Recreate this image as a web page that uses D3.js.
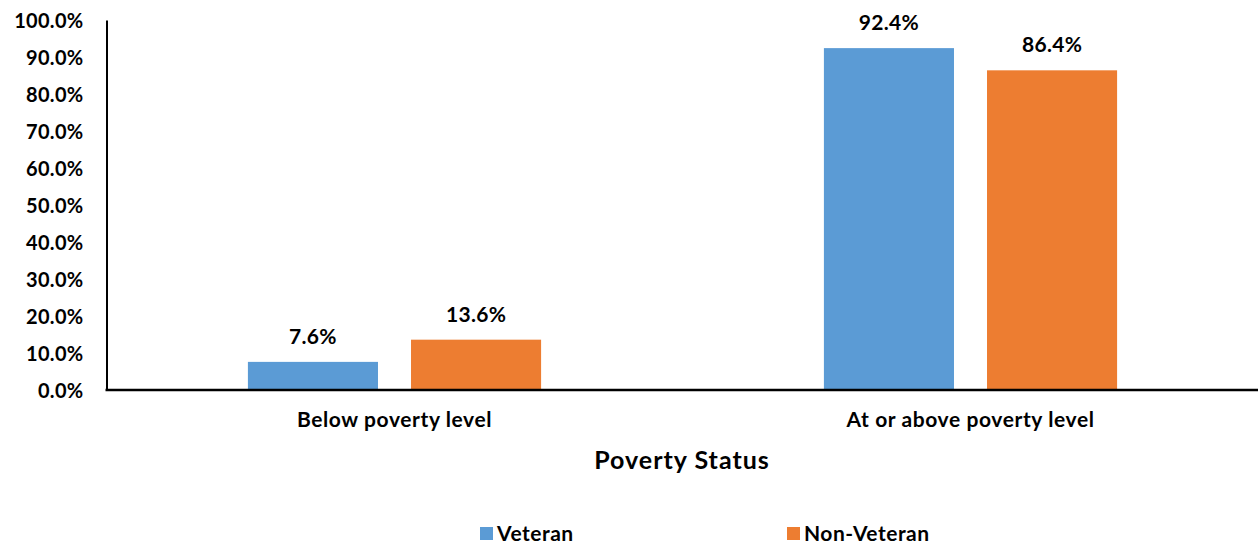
<!DOCTYPE html>
<html><head><meta charset="utf-8">
<script src="https://cdn.jsdelivr.net/npm/d3@7"></script>
<style>
html,body{margin:0;padding:0;background:#fff;}
text{font-family:Lato,"Open Sans",sans-serif;font-weight:bold;fill:#000;}
</style></head>
<body>
<svg id="chart" width="1258" height="548"></svg>
<script>
const categories = ["Below poverty level", "At or above poverty level"];
const seriesNames = ["Veteran", "Non-Veteran"];
const veteran = [7.6, 92.4];
const nonVeteran = [13.6, 86.4];
const yTicks = [0, 10, 20, 30, 40, 50, 60, 70, 80, 90, 100];
const colors = ["#5B9BD5", "#ED7D31"];
const xTitle = "Poverty Status";

const svg = d3.select("#chart");
const mLeft = 106.5, mRight = 1258.5, mTop = 20, mBottom = 390;

const y = d3.scaleLinear().domain([0, 100]).range([mBottom, mTop]);
const x0 = d3.scaleBand().domain(categories).range([mLeft, mRight]).paddingInner(0.491).paddingOuter(0.2455);
const x1 = d3.scaleBand().domain(seriesNames).range([0, x0.bandwidth()]).paddingInner(0.2025).paddingOuter(0);

const seriesVals = {"Veteran": veteran, "Non-Veteran": nonVeteran};
const data = [];
categories.forEach((c, i) => seriesNames.forEach((s, j) => data.push({c, s, v: seriesVals[s][i], color: colors[j]})));

// bars
svg.append("g").selectAll("rect").data(data).join("rect")
  .attr("x", d => x0(d.c) + x1(d.s))
  .attr("y", d => y(d.v))
  .attr("width", x1.bandwidth())
  .attr("height", d => y(0) - y(d.v))
  .attr("fill", d => d.color);

// data labels
svg.append("g").selectAll("text").data(data).join("text")
  .attr("x", d => x0(d.c) + x1(d.s) + x1.bandwidth() / 2)
  .attr("y", d => y(d.v) - 18)
  .attr("text-anchor", "middle")
  .attr("font-size", 21)
  .attr("letter-spacing", 0.3)
  .text(d => d.v.toFixed(1) + "%");

// y axis
const yAxis = svg.append("g").attr("transform", `translate(${mLeft},0)`)
  .call(d3.axisLeft(y).tickValues(yTicks).tickSize(0).tickPadding(23).tickFormat(d => d.toFixed(1) + "%"));
yAxis.select(".domain").attr("stroke", "#000").attr("stroke-width", 2);
yAxis.selectAll("text").attr("font-size", 20).attr("font-family", "Lato, sans-serif").attr("font-weight", "bold")
  .attr("letter-spacing", 0.3).attr("dy", "0.35em");

// x axis
const xAxis = svg.append("g").attr("transform", `translate(0,${mBottom})`)
  .call(d3.axisBottom(x0).tickSize(0).tickPadding(22));
xAxis.select(".domain").attr("stroke", "#000").attr("stroke-width", 2.5).attr("d", `M${mLeft - 1},0H${mRight}`);
xAxis.selectAll("text").attr("font-size", 21).attr("font-family", "Lato, sans-serif").attr("font-weight", "bold")
  .attr("letter-spacing", 0.6);

// x title
svg.append("text").attr("x", 682).attr("y", 469).attr("text-anchor", "middle").attr("font-size", 25)
  .attr("letter-spacing", 1).text(xTitle);

// legend
const legendX = [480, 787];
const lg = svg.append("g").selectAll("g").data(seriesNames).join("g")
  .attr("transform", (d, i) => `translate(${legendX[i]},527)`);
lg.append("rect").attr("width", 13).attr("height", 13).attr("fill", (d, i) => colors[i]);
lg.append("text").attr("x", 17).attr("y", 14).attr("font-size", 21).attr("letter-spacing", 0.5).text(d => d);
</script>
</body></html>
